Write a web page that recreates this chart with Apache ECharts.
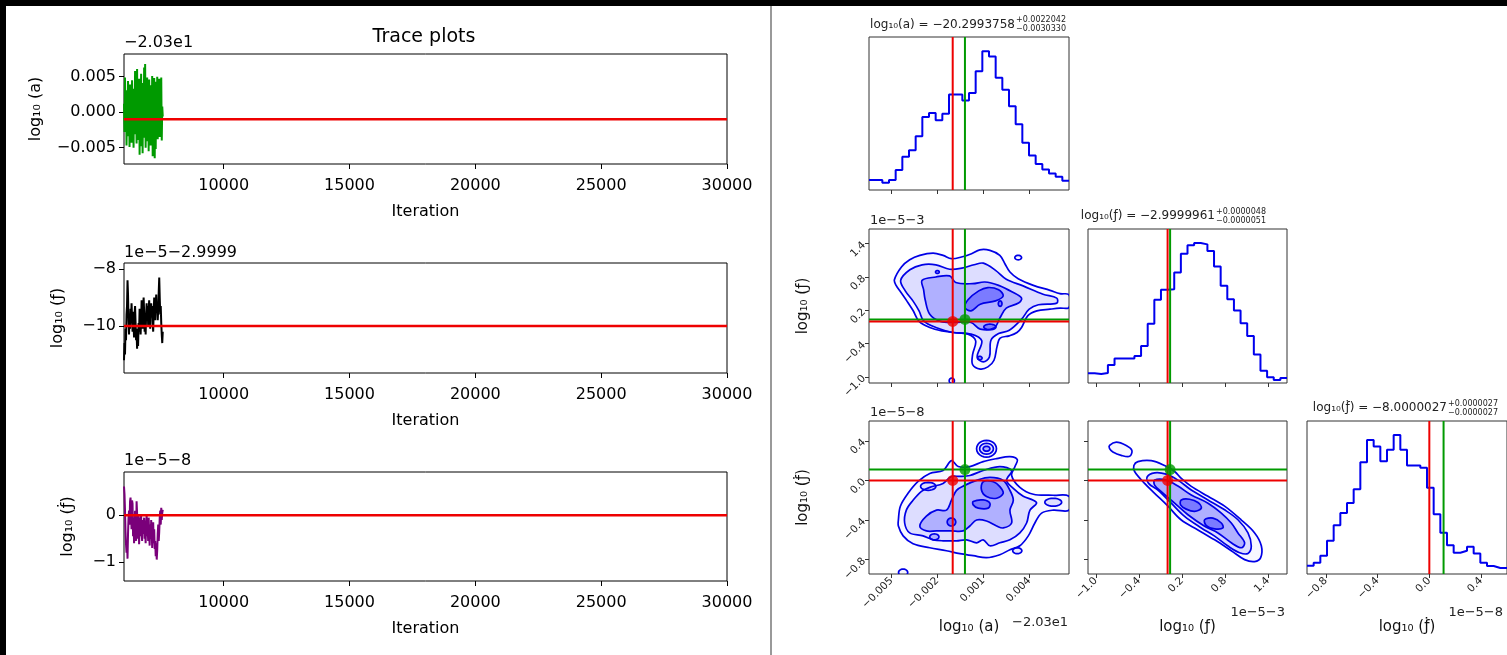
<!DOCTYPE html>
<html><head><meta charset="utf-8">
<script src="https://cdn.jsdelivr.net/npm/echarts@6/dist/echarts.min.js"></script>
<style>html,body{margin:0;padding:0;background:#fff;}#c{width:1507px;height:655px;}</style>
</head><body><div id="c"></div>
<script>
// ================= DATA =================
// trace plots (values shown in offset units of each axis)
const iterStart = 6040, iterStep = 20, iterMax = 30000;
const iterTicks = [10000, 15000, 20000, 25000, 30000];
const traceA = [
0.0012,-0.0028,0.0049,-0.0012,0.0031,-0.0047,0.0018,-0.0034,0.0044,-0.0021,
0.0026,-0.0049,0.0039,-0.0008,0.0015,-0.0043,0.0045,-0.0026,0.0009,-0.0050,
0.0033,-0.0017,0.0058,-0.0031,0.0022,-0.0044,0.0061,-0.0011,0.0036,-0.0039,
0.0047,-0.0060,0.0029,-0.0024,0.0054,-0.0048,0.0017,-0.0058,0.0041,-0.0019,
0.0063,-0.0036,0.0068,-0.0050,0.0030,-0.0027,0.0049,-0.0041,0.0021,-0.0055,
0.0046,-0.0013,0.0038,-0.0047,0.0012,-0.0033,0.0051,-0.0062,0.0027,-0.0040,
0.0048,-0.0065,0.0019,-0.0052,0.0043,-0.0029,0.0050,-0.0038,0.0014,-0.0022,
0.0047,-0.0035,0.0031,-0.0016,0.0049,-0.0040,0.0008,-0.0006];
const traceF = [
-11.2,-10.6,-11.0,-10.1,-10.5,-9.6,-9.3,-8.4,-8.9,-9.8,
-10.3,-9.6,-10.1,-9.4,-9.9,-9.2,-9.7,-10.2,-9.5,-10.0,
-10.4,-9.6,-9.3,-9.9,-10.5,-10.2,-10.8,-10.1,-10.7,-9.9,
-10.2,-9.4,-9.7,-10.3,-9.8,-9.1,-9.6,-10.1,-9.4,-9.0,
-9.5,-10.2,-9.7,-10.3,-9.6,-9.2,-9.8,-9.3,-10.0,-9.5,
-9.1,-9.6,-10.1,-9.4,-9.2,-9.7,-9.3,-9.9,-10.2,-9.5,
-9.0,-9.4,-9.8,-9.3,-8.9,-9.5,-9.2,-9.8,-9.4,-8.8,
-8.3,-9.0,-9.6,-9.3,-9.9,-10.3,-10.6,-10.2];
const traceFd = [
0.62,0.45,0.10,-0.35,-0.62,-0.80,-0.55,-0.93,-0.40,-0.05,
0.10,-0.20,0.30,0.38,0.05,-0.30,0.32,0.25,-0.45,-0.10,
-0.60,-0.20,0.10,-0.40,-0.55,0.30,0.05,-0.50,-0.25,0.00,
-0.62,-0.30,-0.05,-0.45,0.02,-0.35,-0.55,-0.10,-0.40,-0.20,
-0.05,-0.50,-0.30,-0.60,-0.15,0.00,-0.45,-0.25,-0.55,-0.05,
-0.40,-0.65,-0.20,-0.50,-0.10,-0.35,-0.70,-0.45,-0.15,-0.60,
-0.30,-0.72,-0.55,-0.88,-0.60,-0.95,-0.75,-0.40,-0.20,-0.55,
-0.35,-0.05,0.10,-0.20,0.16,-0.10,0.05,0.12];
const traceRangeA = [-0.0073, 0.0082], traceTicksA = [-0.005, 0, 0.005];
const traceRangeF = [-11.65, -7.79], traceTicksF = [-10, -8];
const traceRangeFd = [-1.41, 0.93], traceTicksFd = [-1, 0];
const traceRedA = -0.001, traceRedF = -10, traceRedFd = 0;

// corner plot
const rangeA = [-0.00647, 0.0066], ticksA = [-0.005, -0.002, 0.001, 0.004];
const rangeF = [-1.11, 1.665], ticksF = [-1.0, -0.4, 0.2, 0.8, 1.4];
const rangeFd = [-0.945, 0.6], ticksFd = [-0.8, -0.4, 0.0, 0.4];
const truthA = -0.001, truthF = 0.0, truthFd = 0.0;
const greenA = -0.0002, greenF = 0.035, greenFd = 0.11;
const histMax = 461;
const histA = [30,30,22,30,60,100,120,162,220,232,210,230,288,288,270,292,358,418,402,338,302,252,198,142,104,78,62,50,40,28];
const histF = [29,27,30,54,73,73,73,81,111,177,249,279,281,331,387,412,419,415,395,349,291,251,217,179,141,85,37,17,9,15];
const histFd = [25,34,55,100,147,184,214,255,337,404,384,340,374,419,374,327,327,320,260,180,124,87,64,70,82,62,34,24,18,18];

// contours: log10(a) vs log10(f)
const A_L4 = [[-0.00481,0.75],[-0.00435,0.98],[-0.00381,1.11],[-0.00315,1.19],[-0.00228,1.23],[-0.00163,1.19],[-0.00108,1.13],[-0.00043,1.16],[0.00023,1.22],[0.00077,1.29],[0.00143,1.28],[0.00208,1.19],[0.00241,1.04],[0.00274,0.89],[0.00328,0.77],[0.00427,0.65],[0.00536,0.56],[0.00601,0.50],[0.0066,0.48],[0.0066,0.25],[0.00601,0.24],[0.00536,0.22],[0.0045,0.19],[0.0039,0.10],[0.0035,-0.11],[0.0032,-0.20],[0.0027,-0.26],[0.0021,-0.30],[0.0019,-0.45],[0.0017,-0.70],[0.0013,-0.82],[0.0008,-0.86],[0.0003,-0.78],[0.0003,-0.60],[0.0005,-0.35],[0.0000,-0.23],[-0.0009,-0.20],[-0.0017,-0.17],[-0.0025,-0.11],[-0.0032,0.00],[-0.0036,0.20],[-0.0040,0.37],[-0.0044,0.53],[-0.0047,0.65]];
const A_L3 = [[-0.0044,0.74],[-0.0038,0.93],[-0.0030,1.02],[-0.0021,1.02],[-0.0012,0.94],[-0.0004,0.96],[0.0004,1.02],[0.0010,1.05],[0.0018,0.92],[0.0025,0.76],[0.0036,0.64],[0.0049,0.49],[0.0058,0.42],[0.0058,0.33],[0.0046,0.30],[0.0040,0.22],[0.0035,0.04],[0.0027,-0.16],[0.0020,-0.22],[0.0015,-0.34],[0.0014,-0.64],[0.0010,-0.73],[0.0006,-0.64],[0.0009,-0.35],[0.0002,-0.23],[-0.0010,-0.20],[-0.0021,-0.11],[-0.0029,0.01],[-0.0032,0.19],[-0.0036,0.37],[-0.0041,0.55]];
const A_L2 = [[-0.0030,0.74],[-0.0021,0.80],[-0.0012,0.82],[-0.0008,0.70],[0.0003,0.68],[0.0011,0.71],[0.0020,0.65],[0.0029,0.53],[0.0035,0.42],[0.0033,0.33],[0.0025,0.24],[0.0021,0.07],[0.0017,-0.12],[0.0008,-0.14],[0.0002,-0.02],[-0.0009,-0.02],[-0.0018,0.00],[-0.0025,0.13],[-0.0028,0.39],[-0.0029,0.57]];
const A_L1 = [[0.0007,0.55],[0.0013,0.61],[0.0020,0.57],[0.0023,0.46],[0.0018,0.37],[0.0008,0.31],[0.0002,0.19],[-0.0002,0.25],[0.0000,0.39]];
const A_islands = [[0.00328,1.15,0.00022,0.04,4],[-0.00106,-1.07,0.00017,0.05,4],[-0.0020,0.89,0.00012,0.025,2],[0.00077,-0.66,0.00015,0.03,2],[0.00143,-0.10,0.0004,0.05,1],[0.0021,0.32,0.00012,0.05,1]];

// contours: log10(a) vs log10(fdot)
const B_L4 = [[-0.00455,-0.40],[-0.00442,-0.26],[-0.00392,-0.13],[-0.00326,-0.01],[-0.0025,0.07],[-0.00163,0.10],[-0.00108,0.20],[-0.00064,0.14],[0.00012,0.14],[0.00099,0.19],[0.00187,0.22],[0.00274,0.24],[0.00322,0.21],[0.00307,0.14],[0.00285,0.05],[0.00339,-0.07],[0.00427,-0.14],[0.00557,-0.15],[0.0066,-0.16],[0.0066,-0.30],[0.00557,-0.30],[0.00481,-0.33],[0.00437,-0.43],[0.00394,-0.56],[0.00339,-0.66],[0.00274,-0.70],[0.00208,-0.75],[0.00121,-0.78],[0.00034,-0.76],[-0.00053,-0.74],[-0.00141,-0.71],[-0.0025,-0.68],[-0.00359,-0.64],[-0.00424,-0.56],[-0.00455,-0.46]];
const B_L3 = [[-0.00414,-0.43],[-0.00403,-0.30],[-0.00359,-0.20],[-0.00304,-0.11],[-0.0025,-0.07],[-0.00163,-0.03],[-0.00108,0.04],[-0.00053,0.04],[0.00012,0.05],[0.00099,0.10],[0.00208,0.14],[0.00285,0.10],[0.00252,0.00],[0.00296,-0.08],[0.00361,-0.16],[0.00427,-0.20],[0.00448,-0.23],[0.00405,-0.30],[0.00383,-0.43],[0.00339,-0.53],[0.00274,-0.60],[0.00208,-0.63],[0.00143,-0.66],[0.00099,-0.60],[0.00056,-0.63],[-0.0001,-0.60],[-0.00075,-0.61],[-0.00163,-0.61],[-0.00228,-0.60],[-0.00294,-0.56],[-0.00381,-0.53]];
const B_L2 = [[-0.00315,-0.46],[-0.00272,-0.36],[-0.00206,-0.30],[-0.00141,-0.30],[-0.00108,-0.20],[-0.00075,-0.10],[-0.00021,-0.05],[0.00056,0.00],[0.00143,0.03],[0.0023,0.00],[0.00274,-0.10],[0.00296,-0.20],[0.00274,-0.30],[0.00285,-0.43],[0.0023,-0.48],[0.00187,-0.46],[0.00121,-0.41],[0.00056,-0.40],[0.00012,-0.46],[-0.00032,-0.51],[-0.00108,-0.51],[-0.00206,-0.51],[-0.00272,-0.51]];
const B_L1a = [[0.00099,-0.013],[0.00165,-0.013],[0.00208,-0.063],[0.0023,-0.13],[0.00187,-0.18],[0.00121,-0.163],[0.00088,-0.097]];
const B_L1b = [[0.00034,-0.213],[0.00099,-0.197],[0.00143,-0.23],[0.00132,-0.28],[0.00067,-0.28],[0.00034,-0.247]];
const B_islands = [[0.00121,0.32,0.00065,0.085,4],[0.00121,0.32,0.00045,0.055,3],[0.00121,0.32,0.00022,0.025,2],[-0.00424,-0.93,0.0003,0.035,4],[0.00557,-0.22,0.00055,0.04,3],[0.00322,-0.71,0.0003,0.03,3],[-0.0026,-0.06,0.0005,0.04,3],[-0.0022,-0.57,0.0003,0.03,2],[-0.00108,-0.42,0.00028,0.04,1]];

// contours: log10(f) vs log10(fdot)
const C_L4 = [[-0.47,0.15],[-0.414,0.19],[-0.228,0.20],[-0.042,0.15],[0.098,0.09],[0.191,0.02],[0.33,-0.06],[0.563,-0.16],[0.795,-0.26],[1.028,-0.40],[1.214,-0.53],[1.307,-0.66],[1.298,-0.78],[1.214,-0.82],[1.074,-0.80],[0.888,-0.71],[0.656,-0.60],[0.423,-0.50],[0.191,-0.40],[0.005,-0.26],[-0.181,-0.13],[-0.321,-0.03],[-0.46,0.09]];
const C_L3 = [[-0.284,0.037],[-0.181,0.077],[-0.019,0.063],[0.144,0.003],[0.33,-0.097],[0.563,-0.197],[0.795,-0.297],[0.981,-0.397],[1.121,-0.53],[1.167,-0.663],[1.121,-0.737],[1.005,-0.73],[0.842,-0.663],[0.656,-0.563],[0.47,-0.48],[0.237,-0.363],[0.051,-0.23],[-0.135,-0.097],[-0.265,-0.03]];
const C_L2 = [[-0.181,0.003],[-0.019,0.003],[0.144,-0.057],[0.33,-0.147],[0.563,-0.23],[0.749,-0.33],[0.888,-0.43],[0.981,-0.53],[1.074,-0.63],[1.028,-0.68],[0.888,-0.63],[0.702,-0.53],[0.516,-0.463],[0.284,-0.347],[0.098,-0.23],[-0.088,-0.113],[-0.181,-0.047]];
const C_L1a = [[0.191,-0.197],[0.307,-0.19],[0.423,-0.223],[0.47,-0.28],[0.377,-0.313],[0.26,-0.29],[0.181,-0.247]];
const C_L1b = [[0.516,-0.397],[0.633,-0.38],[0.749,-0.43],[0.772,-0.48],[0.656,-0.49],[0.54,-0.457]];
const C_island = [[-0.809,0.353],[-0.716,0.387],[-0.577,0.353],[-0.498,0.303],[-0.53,0.243],[-0.647,0.253],[-0.763,0.287],[-0.809,0.32]];

// ================= CHART =================
const FONT = 'DejaVu Sans';
const RED = '#ee0000', GREEN = '#009a00', BLUE = '#0000e6';
const fills = {1:'rgba(0,0,255,0.30)',2:'rgba(0,0,255,0.20)',3:'rgba(0,0,255,0.10)',4:'rgba(0,0,255,0.03)'};
const fmt = d => v => (v < 0 ? '\u2212' : '') + Math.abs(v).toFixed(d);

const grids = [
  {left:124, top:54, width:603, height:110},
  {left:124, top:263, width:603, height:110},
  {left:124, top:472, width:603, height:109},
  {left:869, top:37, width:200, height:153},
  {left:869, top:229, width:200, height:154},
  {left:1088, top:229, width:199, height:154},
  {left:869, top:421, width:200, height:153},
  {left:1088, top:421, width:199, height:153},
  {left:1307, top:421, width:200, height:153}
].map((g, i) => Object.assign({show:true, borderColor: i < 3 ? '#000' : '#333', borderWidth:1, backgroundColor:'rgba(0,0,0,0)'}, g));

function traceX(gi) {
  return {type:'value', gridIndex:gi, min:iterStart, max:iterMax, axisLine:{show:false, onZero:false}, splitLine:{show:false},
    axisTick:{show:true, length:5, lineStyle:{color:'#000'}, customValues:iterTicks},
    axisLabel:{customValues:iterTicks, formatter:v => String(v), fontSize:16, color:'#000', margin:14, fontFamily:FONT},
    name:'Iteration', nameLocation:'middle', nameGap:40, nameTextStyle:{fontSize:16, color:'#000', fontFamily:FONT}};
}
function traceY(gi, range, ticks, dec, name, gap) {
  return {type:'value', gridIndex:gi, min:range[0], max:range[1], axisLine:{show:false, onZero:false}, splitLine:{show:false},
    axisTick:{show:true, length:5, lineStyle:{color:'#000'}, customValues:ticks},
    axisLabel:{customValues:ticks, formatter:fmt(dec), fontSize:16, color:'#000', margin:8, fontFamily:FONT},
    name:name, nameLocation:'middle', nameGap:gap, nameTextStyle:{fontSize:16, color:'#000', fontFamily:FONT}};
}
function cornerX(gi, range, ticks, showLab, dec, name) {
  return {type:'value', gridIndex:gi, min:range[0], max:range[1], axisLine:{show:false, onZero:false}, splitLine:{show:false},
    axisTick:{show:true, length:4, lineStyle:{color:'#333'}, customValues:ticks},
    axisLabel:{show:showLab, customValues:ticks, rotate:45, formatter:fmt(dec), fontSize:10.5, color:'#222', margin:5, fontFamily:FONT},
    name:name || '', nameLocation:'middle', nameGap:46, nameTextStyle:{fontSize:15, color:'#111', fontFamily:FONT}};
}
function cornerY(gi, range, ticks, showLab, dec, name) {
  return {type:'value', gridIndex:gi, min:range[0], max:range[1], axisLine:{show:false, onZero:false}, splitLine:{show:false},
    axisTick:{show:true, length:4, lineStyle:{color:'#333'}, customValues:ticks},
    axisLabel:{show:showLab, customValues:ticks, rotate:45, formatter:fmt(dec), fontSize:10.5, color:'#222', margin:5, fontFamily:FONT},
    name:name || '', nameLocation:'middle', nameGap:58, nameTextStyle:{fontSize:15, color:'#111', fontFamily:FONT}};
}
const histY = gi => ({type:'value', gridIndex:gi, min:0, max:histMax, show:false});

const xAxis = [
  traceX(0), traceX(1), traceX(2),
  cornerX(3, rangeA, ticksA, false, 3),
  cornerX(4, rangeA, ticksA, false, 3),
  cornerX(5, rangeF, ticksF, false, 1),
  cornerX(6, rangeA, ticksA, true, 3, 'log\u2081\u2080 (a)'),
  cornerX(7, rangeF, ticksF, true, 1, 'log\u2081\u2080 (\u0192)'),
  cornerX(8, rangeFd, ticksFd, true, 1, 'log\u2081\u2080 (\u0192\u0307)')
];
const yAxis = [
  traceY(0, traceRangeA, traceTicksA, 3, 'log\u2081\u2080 (a)', 80),
  traceY(1, traceRangeF, traceTicksF, 0, 'log\u2081\u2080 (\u0192)', 58),
  traceY(2, traceRangeFd, traceTicksFd, 0, 'log\u2081\u2080 (\u0192\u0307)', 48),
  histY(3),
  cornerY(4, rangeF, ticksF, true, 1, 'log\u2081\u2080 (\u0192)'),
  histY(5),
  cornerY(6, rangeFd, ticksFd, true, 1, 'log\u2081\u2080 (\u0192\u0307)'),
  cornerY(7, rangeFd, ticksFd, false, 1),
  histY(8)
];

const series = [];
function lineS(gi, pts, color, w, z) {
  series.push({type:'line', xAxisIndex:gi, yAxisIndex:gi, data:pts, symbol:'none', showSymbol:false, silent:true,
    lineStyle:{color:color, width:w}, z:z || 3});
}
function traceS(gi, vals, color, red) {
  lineS(gi, vals.map((v, i) => [iterStart + i * iterStep, v]), color, 2, 2);
  lineS(gi, [[iterStart, red], [iterMax, red]], RED, 2.5, 3);
}
traceS(0, traceA, '#009a00', traceRedA);
traceS(1, traceF, '#000000', traceRedF);
traceS(2, traceFd, '#7a007a', traceRedFd);

function polyS(gi, pts, level) {
  series.push({type:'custom', xAxisIndex:gi, yAxisIndex:gi, clip:true, silent:true, z:2, data:[pts[0]],
    renderItem:(params, api) => ({type:'polygon', shape:{points:pts.map(p => api.coord(p)), smooth:0.35},
      style:{fill:fills[level], stroke:BLUE, lineWidth:1.7}})});
}
function islandS(gi, list) {
  series.push({type:'custom', xAxisIndex:gi, yAxisIndex:gi, clip:true, silent:true, z:2, data:list,
    renderItem:(params, api) => {
      const c = api.coord([api.value(0), api.value(1)]);
      const s = api.size([api.value(2), api.value(3)]);
      const pts = [];
      for (let k = 0; k < 24; k++) { const t = k / 24 * 2 * Math.PI; pts.push([c[0] + s[0] * Math.cos(t), c[1] + s[1] * Math.sin(t)]); }
      return {type:'polygon', shape:{points:pts}, style:{fill:fills[api.value(4)], stroke:BLUE, lineWidth:1.7}};
    }});
}
function histS(gi, counts, range) {
  const n = counts.length, w = (range[1] - range[0]) / n;
  const d = counts.map((c, i) => [range[0] + i * w, c]);
  d.push([range[1], counts[n - 1]]);
  series.push({type:'line', xAxisIndex:gi, yAxisIndex:gi, data:d, step:'end', symbol:'none', showSymbol:false, silent:true,
    lineStyle:{color:'#0000ee', width:2}, z:2});
}
const vline = (gi, x, yr, c) => lineS(gi, [[x, yr[0]], [x, yr[1]]], c, 2, 3);
const hline = (gi, y, xr, c) => lineS(gi, [[xr[0], y], [xr[1], y]], c, 2, 3);
function dots(gi, gx, gy, tx, ty) {
  series.push({type:'scatter', xAxisIndex:gi, yAxisIndex:gi, data:[[gx, gy]], symbolSize:11, itemStyle:{color:GREEN}, silent:true, z:5});
  series.push({type:'scatter', xAxisIndex:gi, yAxisIndex:gi, data:[[tx, ty]], symbolSize:11, itemStyle:{color:RED}, silent:true, z:5});
}

// histograms
histS(3, histA, rangeA); vline(3, greenA, [0, histMax], GREEN); vline(3, truthA, [0, histMax], RED);
histS(5, histF, rangeF); vline(5, greenF, [0, histMax], GREEN); vline(5, truthF, [0, histMax], RED);
histS(8, histFd, rangeFd); vline(8, greenFd, [0, histMax], GREEN); vline(8, truthFd, [0, histMax], RED);

// A: a vs f
[[A_L4,4],[A_L3,3],[A_L2,2],[A_L1,1]].forEach(p => polyS(4, p[0], p[1]));
islandS(4, A_islands);
vline(4, greenA, rangeF, GREEN); hline(4, greenF, rangeA, GREEN);
vline(4, truthA, rangeF, RED); hline(4, truthF, rangeA, RED);
dots(4, greenA, greenF, truthA, truthF);

// B: a vs fdot
[[B_L4,4],[B_L3,3],[B_L2,2],[B_L1a,1],[B_L1b,1]].forEach(p => polyS(6, p[0], p[1]));
islandS(6, B_islands);
vline(6, greenA, rangeFd, GREEN); hline(6, greenFd, rangeA, GREEN);
vline(6, truthA, rangeFd, RED); hline(6, truthFd, rangeA, RED);
dots(6, greenA, greenFd, truthA, truthFd);

// C: f vs fdot
[[C_island,4],[C_L4,4],[C_L3,3],[C_L2,2],[C_L1a,1],[C_L1b,1]].forEach(p => polyS(7, p[0], p[1]));
vline(7, greenF, rangeFd, GREEN); hline(7, greenFd, rangeF, GREEN);
vline(7, truthF, rangeFd, RED); hline(7, truthFd, rangeF, RED);
dots(7, greenF, greenFd, truthF, truthFd);

function T(x, y, text, size, align, color) {
  return {type:'text', x:x, y:y, z:50, silent:true,
    style:{text:text, fontSize:size, fontFamily:FONT, fill:color || '#000', align:align || 'left', verticalAlign:'middle'}};
}
const graphic = [
  {type:'rect', shape:{x:0, y:0, width:1507, height:6}, style:{fill:'#000'}, z:60, silent:true},
  {type:'rect', shape:{x:0, y:0, width:6, height:655}, style:{fill:'#000'}, z:60, silent:true},
  {type:'rect', shape:{x:770, y:6, width:2, height:649}, style:{fill:'#999'}, z:60, silent:true},
  T(424, 37, 'Trace plots', 19, 'center'),
  T(124, 43, '\u22122.03e1', 16),
  T(124, 253, '1e\u22125\u22122.9999', 16),
  T(124, 461, '1e\u22125\u22128', 16),
  // corner titles
  T(1015, 25, 'log\u2081\u2080(a) = \u221220.2993758', 12, 'right', '#222'),
  T(1016, 20, '+0.0022042', 8, 'left', '#222'),
  T(1016, 29, '\u22120.0030330', 8, 'left', '#222'),
  T(1215, 216, 'log\u2081\u2080(\u0192) = \u22122.9999961', 12, 'right', '#222'),
  T(1216, 212, '+0.0000048', 8, 'left', '#222'),
  T(1216, 221, '\u22120.0000051', 8, 'left', '#222'),
  T(1447, 408, 'log\u2081\u2080(\u0192\u0307) = \u22128.0000027', 12, 'right', '#222'),
  T(1448, 404, '+0.0000027', 8, 'left', '#222'),
  T(1448, 413, '\u22120.0000027', 8, 'left', '#222'),
  // corner offset texts
  T(870, 221, '1e\u22125\u22123', 13, 'left', '#222'),
  T(870, 413, '1e\u22125\u22128', 13, 'left', '#222'),
  T(1012, 623, '\u22122.03e1', 13, 'left', '#222'),
  T(1285, 613, '1e\u22125\u22123', 13, 'right', '#222'),
  T(1503, 613, '1e\u22125\u22128', 13, 'right', '#222')
];

const chart = echarts.init(document.getElementById('c'), null, {renderer:'canvas'});
chart.setOption({animation:false, backgroundColor:'#fff', textStyle:{fontFamily:FONT},
  grid:grids, xAxis:xAxis, yAxis:yAxis, series:series, graphic:graphic});
</script></body></html>
